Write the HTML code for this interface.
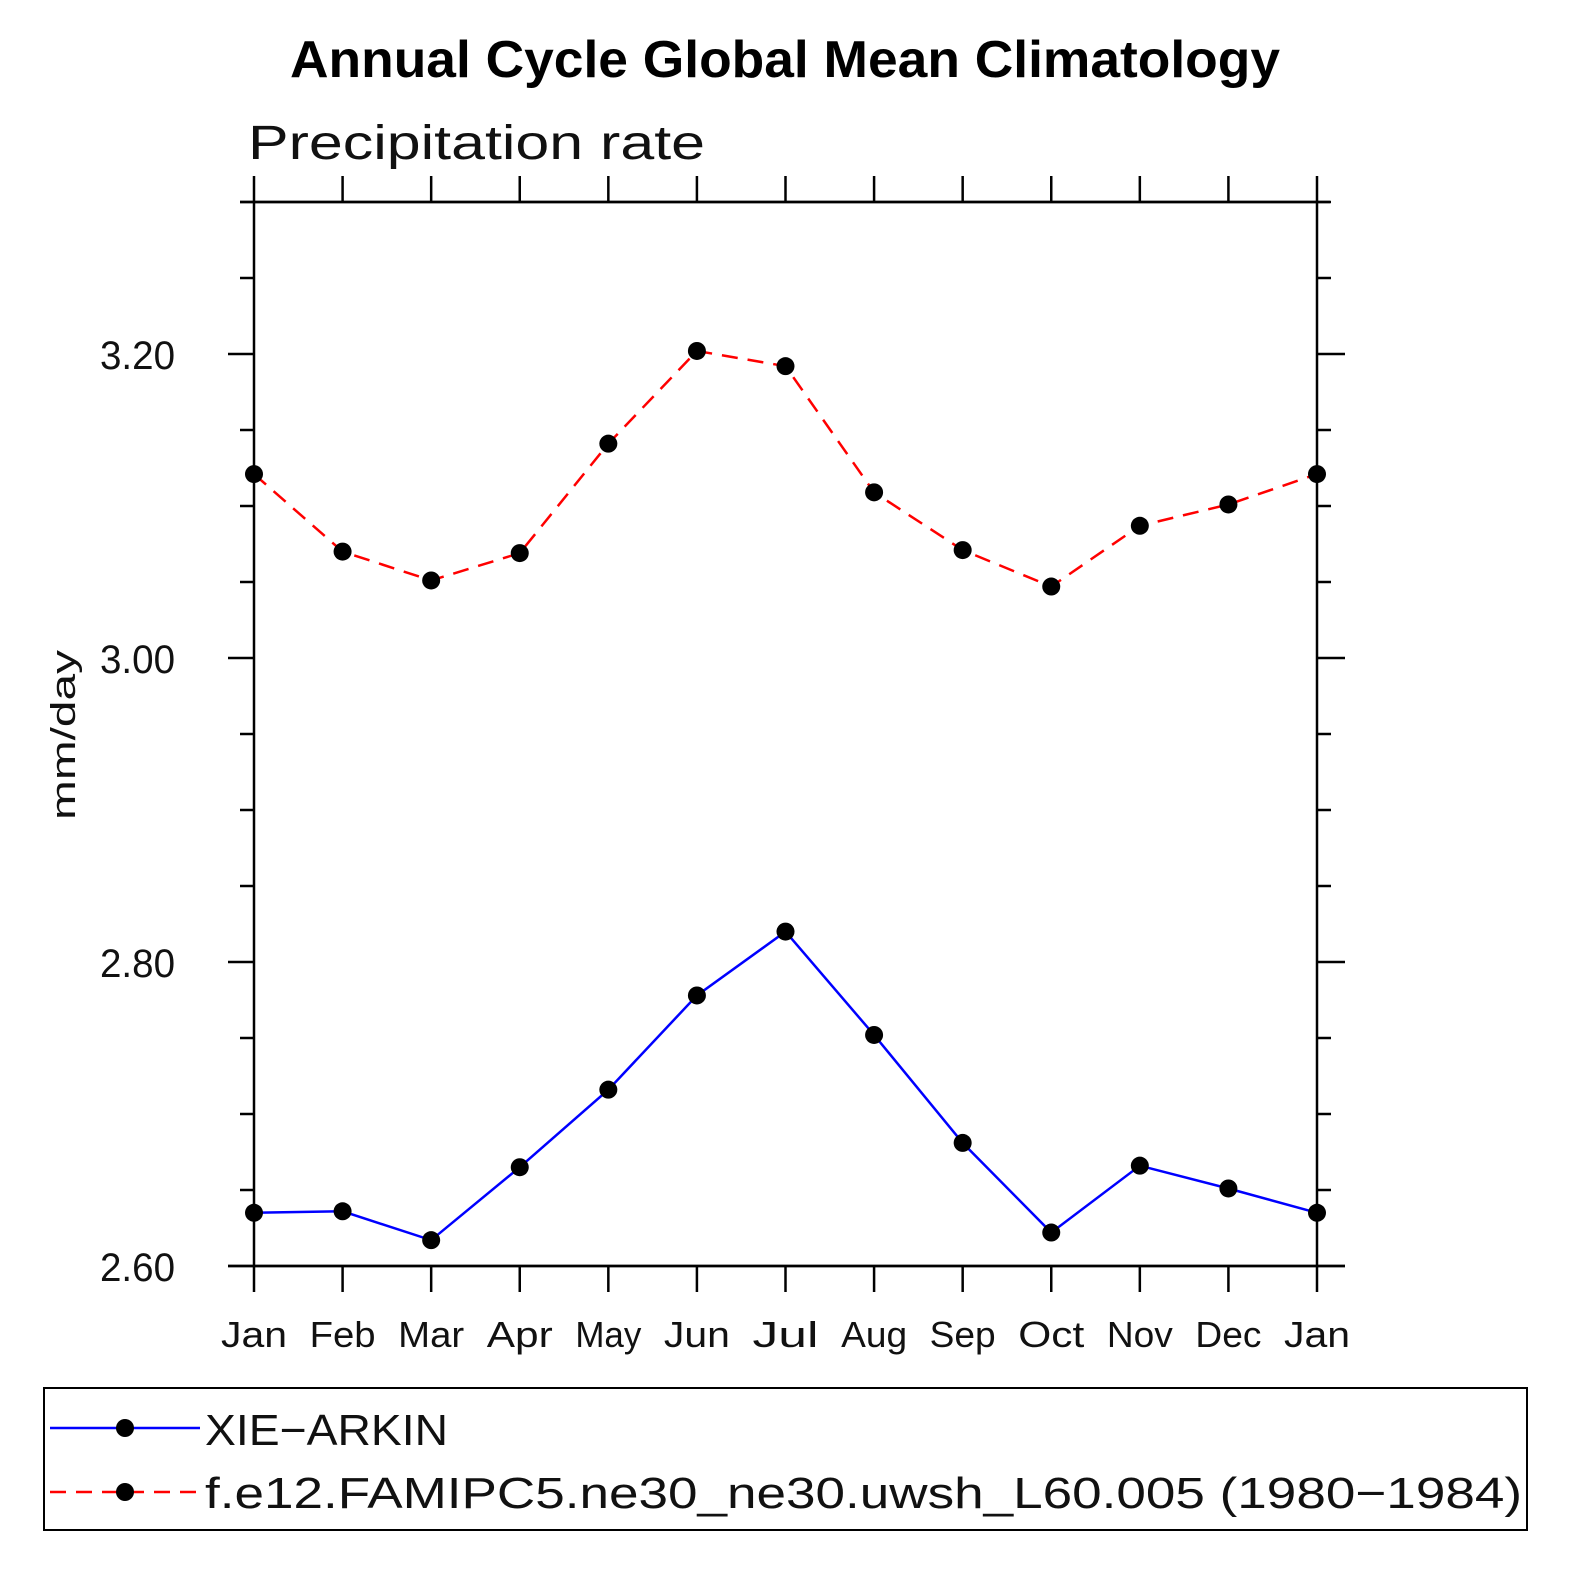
<!DOCTYPE html>
<html><head><meta charset="utf-8"><style>
body{margin:0;background:#fff}
svg text{font-family:"Liberation Sans",sans-serif}
</style></head><body>
<svg id="chart" width="1581" height="1581" xmlns="http://www.w3.org/2000/svg">
<text x="290" y="77" font-size="52" font-weight="bold" textLength="990" lengthAdjust="spacingAndGlyphs">Annual Cycle Global Mean Climatology</text>
<text x="248" y="159" font-size="48" fill="#111" textLength="457" lengthAdjust="spacingAndGlyphs">Precipitation rate</text>
<text transform="translate(75,735) rotate(-90)" text-anchor="middle" font-size="34" fill="#111" textLength="170" lengthAdjust="spacingAndGlyphs">mm/day</text>
<g id="axes"></g>
<g id="series"></g>
<rect x="44" y="1388" width="1483" height="142" fill="none" stroke="#000" stroke-width="2"/>
<g>
<line x1="50" y1="1428" x2="200" y2="1428" stroke="#0000ff" stroke-width="2.5"/>
<circle cx="125" cy="1428" r="9" fill="#000"/>
<text x="205" y="1445" font-size="44" fill="#111" textLength="243" lengthAdjust="spacingAndGlyphs">XIE−ARKIN</text>
</g>
<g>
<line x1="50" y1="1492" x2="200" y2="1492" stroke="#ff0000" stroke-width="2.5" stroke-dasharray="16,10"/>
<circle cx="125" cy="1492" r="9" fill="#000"/>
<text x="205" y="1508" font-size="44" fill="#111" textLength="1317" lengthAdjust="spacingAndGlyphs">f.e12.FAMIPC5.ne30_ne30.uwsh_L60.005 (1980−1984)</text>
</g>
</svg>
<script>
const months=["Jan","Feb","Mar","Apr","May","Jun","Jul","Aug","Sep","Oct","Nov","Dec","Jan"];
const obsValues=[2.635,2.636,2.617,2.665,2.716,2.778,2.820,2.752,2.681,2.622,2.666,2.651,2.635];
const modelValues=[3.121,3.070,3.051,3.069,3.141,3.202,3.192,3.109,3.071,3.047,3.087,3.101,3.121];
const yTicks=[2.60,2.80,3.00,3.20];
const NS="http://www.w3.org/2000/svg";
const X0=254,X1=1317,Y0=1266,Y1=202,YMIN=2.6,YMAX=3.3;
const xs=i=>X0+(X1-X0)*i/(months.length-1);
const ys=v=>Y0-(v-YMIN)/(YMAX-YMIN)*(Y0-Y1);
function mk(tag,attrs,parent){const e=document.createElementNS(NS,tag);for(const k in attrs)e.setAttribute(k,attrs[k]);parent.appendChild(e);return e;}
const ax=document.getElementById('axes');
const frame=mk('rect',{x:X0,y:Y1,width:X1-X0,height:Y0-Y1,fill:'none',stroke:'#000','stroke-width':2.5},ax);


mk('line',{x1:240,y1:Y1,x2:1330,y2:Y1,stroke:'#000','stroke-width':2.5},ax);
mk('line',{x1:228,y1:Y0,x2:1345,y2:Y0,stroke:'#000','stroke-width':2.5},ax);
months.forEach((m,i)=>{
  const x=xs(i);
  mk('line',{x1:x,y1:Y1,x2:x,y2:Y1-26,stroke:'#000','stroke-width':2.5},ax);
  mk('line',{x1:x,y1:Y0,x2:x,y2:Y0+26,stroke:'#000','stroke-width':2.5},ax);
  const t=mk('text',{x:x,y:1347,'text-anchor':'middle','font-size':36,fill:'#111',textLength:(m.length===3?66:60),lengthAdjust:'spacingAndGlyphs'},ax);
  t.textContent=m;
  
  
});
for(let v=YMIN;v<=YMAX+1e-6;v+=0.05){
  const y=ys(v);const major=Math.abs(Math.round(v*100)%20)<1;
  mk('line',{x1:X0,y1:y,x2:X0-(major?26:14),y2:y,stroke:'#000','stroke-width':2.5},ax);
  mk('line',{x1:X1,y1:y,x2:X1+(major?28:14),y2:y,stroke:'#000','stroke-width':2.5},ax);
}
yTicks.forEach(v=>{
  const t=mk('text',{x:100,y:ys(v)+15,'font-size':40,fill:'#111',textLength:75,lengthAdjust:'spacingAndGlyphs'},ax);
  t.textContent=v.toFixed(2);
  
  
});
const sg=document.getElementById('series');
function series(vals,color,dash,name){
  const g=mk('g',{},sg);
  
  
  const p=mk('polyline',{points:vals.map((v,i)=>xs(i)+','+ys(v)).join(' '),fill:'none',stroke:color,'stroke-width':2.5},g);
  if(dash)p.setAttribute('stroke-dasharray',dash);
  vals.forEach((v,i)=>{
    const c=mk('circle',{cx:xs(i),cy:ys(v),r:9,fill:'#000'},g);
    
    
  });
}
series(modelValues,'#ff0000','16,10','model-series');
series(obsValues,'#0000ff',null,'xie-arkin-series');
</script>
</body></html>
